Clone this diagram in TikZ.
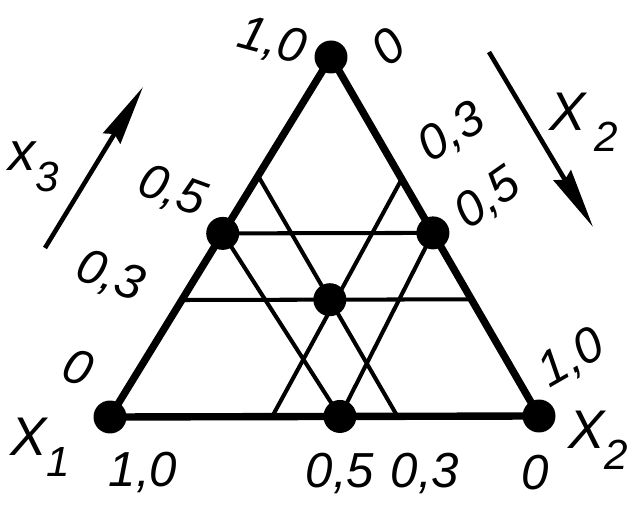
\documentclass[tikz,border=0pt]{standalone}
\usepackage{fontspec}
\setmainfont{Liberation Sans}
\usetikzlibrary{calc,arrows.meta}

% subscript of a component name
\newcommand{\compidx}[1]{\raisebox{-0.38em}{\fontsize{24}{24}\selectfont #1}}

\tikzset{
  vertex/.style={circle,fill=black,inner sep=0pt,minimum size=0.66cm},
  side/.style={line width=4.2pt,line cap=round},
  gridline/.style={line width=2.3pt},
  frac/.style={font=\fontsize{28}{28}\selectfont\itshape,inner sep=1pt},
  comp/.style={font=\fontsize{31}{31}\selectfont\itshape,inner sep=1pt},
  trend/.style={line width=2.6pt,-{Stealth[length=1.2cm,width=0.4cm,inset=0.1cm]}},
}

\begin{document}
\begin{tikzpicture}[x=0.02cm,y=-0.02cm]
    \useasboundingbox (0,0) rectangle (636,506);
    % corners of the composition triangle
    \coordinate (A) at (110,417);
    \coordinate (B) at (539,416);
    \coordinate (C) at (331,57);
    % points on the sides
    \coordinate (L5) at ($(C)!0.49!(A)$);
    \coordinate (R5) at ($(C)!0.49!(B)$);
    \coordinate (D5) at ($(A)!0.536!(B)$);
    \coordinate (L3) at ($(C)!0.675!(A)$);
    \coordinate (R3) at ($(C)!0.675!(B)$);
    \coordinate (Lx) at ($(C)!0.33!(A)$);
    \coordinate (Dx) at ($(A)!0.67!(B)$);
    \coordinate (Dy) at ($(A)!0.378!(B)$);
    \coordinate (Ry) at ($(C)!0.34!(B)$);
    \coordinate (M) at (intersection of Lx--Dx and L3--R3);

    % lines of constant composition
    \draw[gridline] (L5) -- (R5);
    \draw[gridline] (L3) -- (R3);
    \draw[gridline] (L5) -- (D5) -- (R5);
    \draw[gridline] (Lx) -- (Dx);
    \draw[gridline] (Dy) -- (Ry);

    % sides
    \draw[side] (A) -- (B) -- (C) -- cycle;

    % composition points
    \node[vertex] (pA) at (A) {};
    \node[vertex] (pB) at (B) {};
    \node[vertex] (pC) at (C) {};
    \node[vertex] (pL) at (L5) {};
    \node[vertex] (pR) at (R5) {};
    \node[vertex] (pD) at (D5) {};
    \node[vertex] (pM) at (M) {};

    % scale on the left side
    \node[frac,rotate=-15] (l10) at (272,42) {1,0};
    \node[frac,rotate=-20] (l05) at (172,192) {0,5};
    \node[frac,rotate=-20] (l03) at (110,277) {0,3};
    \node[frac,rotate=-20] (l00) at (78,367) {0};
    % scale on the right side
    \node[frac,rotate=40] (r00) at (388,47) {0};
    \node[frac,rotate=32] (r03) at (452,133) {0,3};
    \node[frac,rotate=35] (r05) at (488,199) {0,5};
    \node[frac,rotate=30] (r10) at (572,359) {1,0};
    % scale on the base
    \node[frac] (b10) at (143,472) {1,0};
    \node[frac] (b05) at (340,473) {0,5};
    \node[frac] (b03) at (425,473) {0,3};
    \node[frac] (b00) at (535,473) {0};

    % components
    \node[comp] (X1) at (40,447) {X\compidx{1}};
    \node[comp] (X2) at (598,440) {X\compidx{2}};
    \node[comp] (x3) at (34,167) {x\compidx{3}};
    \node[comp] (X2t) at (584,122) {X\,\compidx{2}};

    % directions of increasing content
    \coordinate (t3) at (45,248);
    \coordinate (h3) at (143,87);
    \coordinate (t2) at (489,52);
    \coordinate (h2) at (593,227);
    \draw[trend] (t3) -- (h3);
    \draw[trend] (t2) -- (h2);
\end{tikzpicture}
\end{document}
